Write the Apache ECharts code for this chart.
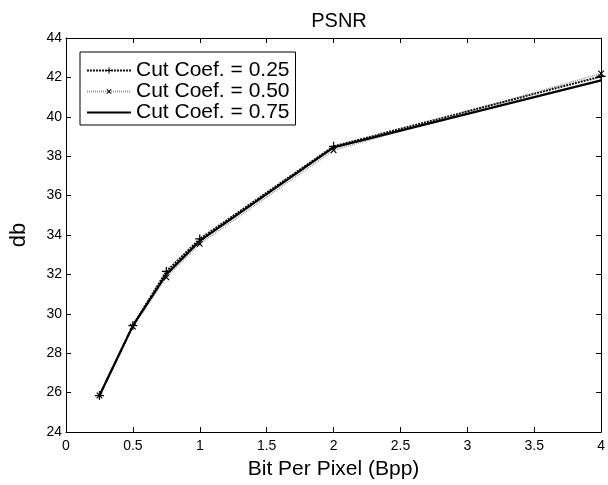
<!DOCTYPE html>
<html><head><meta charset="utf-8">
<script src="https://cdn.jsdelivr.net/npm/echarts@6/dist/echarts.min.js"></script>
<style>html,body{margin:0;padding:0;background:#fff}#c{width:608px;height:485px}</style>
</head><body><div id="c"></div>
<script>
const bpp = [0.25, 0.5, 0.75, 1, 2, 4];
const cut025 = [25.85, 29.4, 32.15, 33.8, 38.5, 42.05];
const cut050 = [25.85, 29.35, 31.85, 33.55, 38.3, 42.2];
const cut075 = [25.85, 29.4, 32.0, 33.7, 38.45, 41.85];
const seriesNames = ['Cut Coef. = 0.25', 'Cut Coef. = 0.50', 'Cut Coef. = 0.75'];
const xTicks = [0, 0.5, 1, 1.5, 2, 2.5, 3, 3.5, 4];
const yTicks = [24, 26, 28, 30, 32, 34, 36, 38, 40, 42, 44];

const pair = (ys) => bpp.map((x, i) => [x, ys[i]]);
const plus = 'path://M4.3,0h1.4v4.3h4.3v1.4h-4.3v4.3h-1.4v-4.3h-4.3v-1.4h4.3z';
const narrow = '"Liberation Sans Narrow","Liberation Sans",Arial,sans-serif';
const lbl = {color:'#000', fontFamily:'"Liberation Sans",Arial,sans-serif', fontSize:14};

const chart = echarts.init(document.getElementById('c'), null, {renderer:'canvas'});
chart.setOption({
  animation:false,
  backgroundColor:'#fff',
  title:{text:'PSNR', left:334, textAlign:'center', top:6,
    textStyle:{fontFamily:narrow, fontSize:20, fontWeight:'normal', color:'#000'}},
  grid:{left:61, right:2, top:38, bottom:44, containLabel:false},
  legend:{left:80, top:52, orient:'vertical', backgroundColor:'#fff', borderColor:'#000', borderWidth:1,
    padding:[8,6,2,6], itemGap:0, itemWidth:44, itemHeight:8,
    textStyle:{fontFamily:narrow, fontSize:21, color:'#000', lineHeight:19},
    data:[{name:seriesNames[0]},{name:seriesNames[1]},{name:seriesNames[2], itemStyle:{opacity:0}}]},
  xAxis:[{type:'value', min:0, max:4, interval:0.5, position:'bottom',
      name:'Bit Per Pixel (Bpp)', nameLocation:'middle', nameGap:27,
      nameTextStyle:{fontFamily:narrow, fontSize:21, color:'#000'},
      axisLine:{onZero:false, lineStyle:{color:'#000', width:1}},
      axisTick:{inside:true, length:5, lineStyle:{color:'#000'}},
      axisLabel:Object.assign({margin:7, formatter:(v)=>xTicks.includes(v)?String(v):''}, lbl),
      splitLine:{show:false}},
    {type:'value', min:0, max:4, interval:0.5, position:'top',
      axisLine:{onZero:false, lineStyle:{color:'#000', width:1}},
      axisTick:{inside:true, length:5, lineStyle:{color:'#000'}},
      axisLabel:{show:false}, splitLine:{show:false}}],
  yAxis:[{type:'value', min:24, max:44, interval:2, position:'left',
      name:'db', nameLocation:'middle', nameGap:36, nameRotate:90,
      nameTextStyle:{fontFamily:narrow, fontSize:22, color:'#000'},
      axisLine:{onZero:false, lineStyle:{color:'#000', width:1}},
      axisTick:{inside:true, length:5, lineStyle:{color:'#000'}},
      axisLabel:Object.assign({margin:4, formatter:(v)=>yTicks.includes(v)?String(v):''}, lbl),
      splitLine:{show:false}},
    {type:'value', min:24, max:44, interval:2, position:'right',
      axisLine:{onZero:false, lineStyle:{color:'#000', width:1}},
      axisTick:{inside:true, length:5, lineStyle:{color:'#000'}},
      axisLabel:{show:false}, splitLine:{show:false}}],
  series:[
    {name:seriesNames[0], type:'line', data:pair(cut025), symbol:plus, symbolSize:9,
      itemStyle:{color:'#000'}, lineStyle:{color:'#111', width:2, type:[2,1]}, z:3},
    {name:seriesNames[1], type:'line', data:pair(cut050), symbol:plus, symbolSize:8, symbolRotate:45,
      itemStyle:{color:'#000'}, lineStyle:{color:'#999', width:1.5, type:[1,1]}, z:2},
    {name:seriesNames[2], type:'line', data:pair(cut075), symbol:'none', showSymbol:false,
      itemStyle:{color:'#000'}, lineStyle:{color:'#000', width:2.2}, z:4}
  ]
});
</script></body></html>
